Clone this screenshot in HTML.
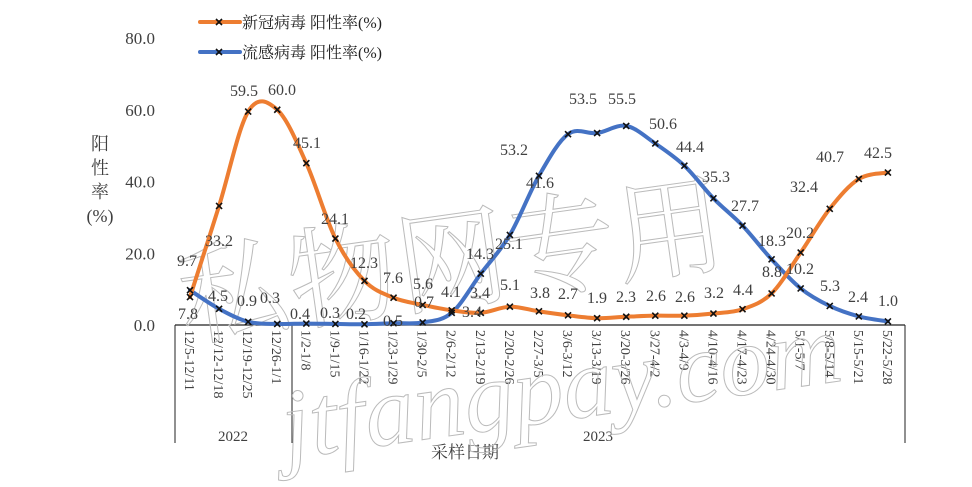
<!DOCTYPE html>
<html><head><meta charset="utf-8"><style>
body{margin:0;background:#fff;}
svg text{font-family:"Liberation Serif","Noto Serif CJK SC",serif;}
</style></head><body>
<svg id="s" width="972" height="482" xmlns="http://www.w3.org/2000/svg">
<g id="g"></g>
</svg>
<script>
const NS="http://www.w3.org/2000/svg";
const g=document.getElementById('g');
function el(t,a,txt){const e=document.createElementNS(NS,t);for(const k in a)e.setAttribute(k,a[k]);if(txt!==undefined)e.textContent=txt;g.appendChild(e);return e;}
const X=i=>190+i*29.08, Y=v=>325-v*3.5875;
const cats=["12/5-12/11","12/12-12/18","12/19-12/25","12/26-1/1","1/2-1/8","1/9-1/15","1/16-1/22","1/23-1/29","1/30-2/5","2/6-2/12","2/13-2/19","2/20-2/26","2/27-3/5","3/6-3/12","3/13-3/19","3/20-3/26","3/27-4/2","4/3-4/9","4/10-4/16","4/17-4/23","4/24-4/30","5/1-5/7","5/8-5/14","5/15-5/21","5/22-5/28"];
const cov=[7.8,33.2,59.5,60.0,45.1,24.1,12.3,7.6,5.6,4.1,3.4,5.1,3.8,2.7,1.9,2.3,2.6,2.6,3.2,4.4,8.8,20.2,32.4,40.7,42.5];
const flu=[9.7,4.5,0.9,0.3,0.4,0.3,0.2,0.5,0.7,3.4,14.3,25.1,41.6,53.2,53.5,55.5,50.6,44.4,35.3,27.7,18.3,10.2,5.3,2.4,1.0];
[0,20,40,60,80].forEach(v=>el('text',{x:155,y:Y(v)+6,'font-size':17,'text-anchor':'end',fill:'#404040'},v.toFixed(1)));
el('line',{x1:175,y1:325,x2:905,y2:325,stroke:'#222','stroke-width':1.2});
[175,292,905].forEach(x=>el('line',{x1:x,y1:325,x2:x,y2:443,stroke:'#222','stroke-width':1}));
cats.forEach((c,i)=>{el('text',{x:0,y:0,'font-size':14,fill:'#404040',transform:`translate(${X(i)-5},330) rotate(90)`},c);});
el('text',{x:233,y:441,'font-size':15,'text-anchor':'middle',fill:'#404040'},'2022');
el('text',{x:598,y:441,'font-size':15,'text-anchor':'middle',fill:'#404040'},'2023');
el('text',{x:465,y:458,'font-size':17,'text-anchor':'middle',fill:'#404040'},'采样日期');
['阳','性','率','(%)'].forEach((t,i)=>el('text',{x:100,y:150+i*24,'font-size':18,'text-anchor':'middle',fill:'#404040'},t));
el('text',{x:450,y:300,'font-size':110,'text-anchor':'middle',fill:'none',stroke:'#bbb','stroke-width':1,transform:'rotate(-8 450 250)'},'私物网专用');
el('text',{x:560,y:420,'font-size':100,'text-anchor':'middle',fill:'none',stroke:'#bbb','stroke-width':1,transform:'rotate(-8 560 380)','font-style':'italic'},'jtfangpay.com');
function path(d){let p=`M${X(0)},${Y(d[0])}`;for(let i=0;i<d.length-1;i++){const p0=[X(Math.max(i-1,0)),Y(d[Math.max(i-1,0)])],p1=[X(i),Y(d[i])],p2=[X(i+1),Y(d[i+1])],p3=[X(Math.min(i+2,d.length-1)),Y(d[Math.min(i+2,d.length-1)])];const t=1/6;p+=` C${p1[0]+(p2[0]-p0[0])*t},${p1[1]+(p2[1]-p0[1])*t} ${p2[0]-(p3[0]-p1[0])*t},${p2[1]-(p3[1]-p1[1])*t} ${p2[0]},${p2[1]}`;}return p;}
function mark(x,y){el('path',{d:`M${x-3},${y-3}L${x+3},${y+3}M${x-3},${y+3}L${x+3},${y-3}`,stroke:'#111','stroke-width':1.6});}
el('path',{d:path(flu),fill:'none',stroke:'#4472C4','stroke-width':4,'stroke-linecap':'round'});
el('path',{d:path(cov),fill:'none',stroke:'#ED7D31','stroke-width':4,'stroke-linecap':'round'});
cov.forEach((v,i)=>mark(X(i),Y(v)));flu.forEach((v,i)=>mark(X(i),Y(v)));
const labs=[["9.7",187,260],["7.8",188,313],["33.2",219,240],["59.5",244,90],["60.0",282,89],["45.1",307,142],["24.1",335,218],["12.3",364,262],["7.6",393,277],["5.6",423,283],["4.1",451,291],["3.4",480,292],["3.4",472,311],["14.3",480,253],["25.1",509,243],["5.1",510,284],["41.6",540,182],["53.2",514,149],["53.5",583,98],["55.5",622,98],["50.6",663,123],["44.4",690,146],["35.3",716,176],["27.7",745,205],["18.3",772,240],["8.8",772,271],["20.2",800,232],["10.2",800,268],["32.4",804,186],["40.7",830,156],["42.5",878,152],["5.3",830,285],["2.4",858,296],["1.0",888,300],["3.8",540,292],["2.7",568,293],["1.9",597,297],["2.3",626,296],["2.6",656,295],["2.6",685,296],["3.2",714,292],["4.4",743,289],["4.5",218,295],["0.9",247,300],["0.3",270,297],["0.4",300,313],["0.3",330,312],["0.2",356,313],["0.5",393,320],["0.7",424,301]];
labs.forEach(l=>el('text',{x:l[1],y:l[2]+6,'font-size':16,'text-anchor':'middle',fill:'#404040'},l[0]));
el('line',{x1:200,y1:22,x2:240,y2:22,stroke:'#ED7D31','stroke-width':4,'stroke-linecap':'round'});mark(219,22);
el('text',{x:242,y:28,'font-size':16,fill:'#222'},'新冠病毒 阳性率(%)');
el('line',{x1:200,y1:52,x2:240,y2:52,stroke:'#4472C4','stroke-width':4,'stroke-linecap':'round'});mark(219,52);
el('text',{x:242,y:58,'font-size':16,fill:'#222'},'流感病毒 阳性率(%)');
</script>
</body></html>
